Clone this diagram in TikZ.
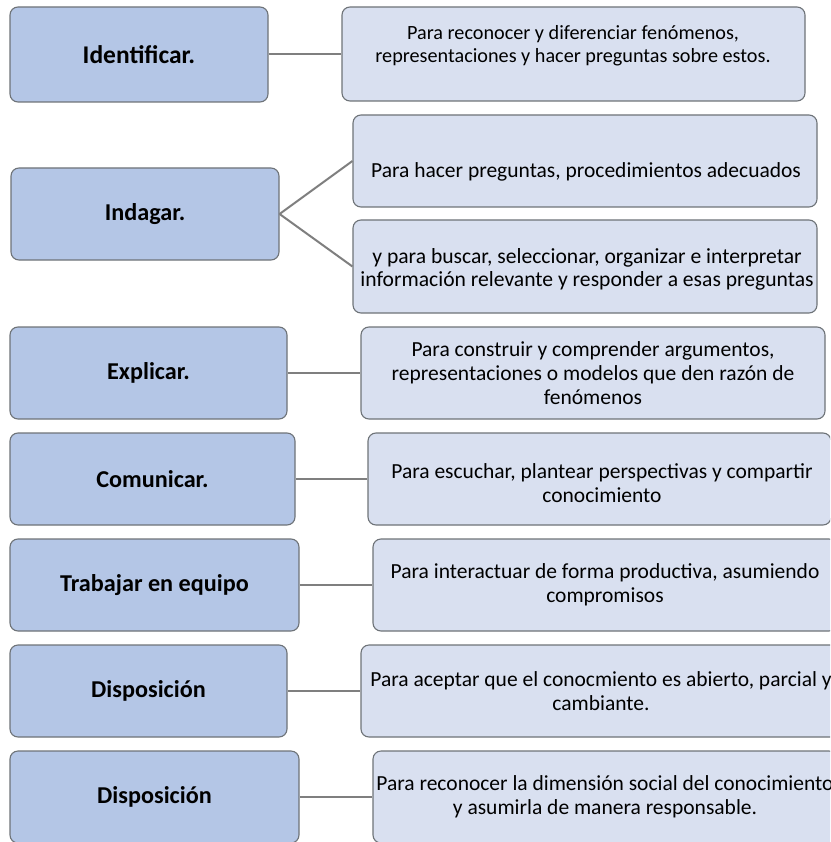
\documentclass[tikz,border=0pt]{standalone}
\usepackage{fontspec}
\setmainfont{Carlito}
\usetikzlibrary{fit}
\definecolor{leftfill}{HTML}{B4C6E6}
\definecolor{rightfill}{HTML}{D9E0F0}
\definecolor{edgegray}{HTML}{6E7378}
\definecolor{linkgray}{HTML}{7F7F7F}
\tikzset{
  box/.style={draw=edgegray, line width=1.1pt, rounded corners=8pt, inner sep=0pt},
  leftbox/.style={box, fill=leftfill},
  rightbox/.style={box, fill=rightfill},
  lefttext/.style={font=\fontsize{24.2}{28}\selectfont\bfseries, inner sep=0pt},
  righttext/.style={font=\fontsize{21.5}{24}\selectfont, align=center, inner sep=0pt},
  link/.style={draw=linkgray, line width=2pt}
}
\newcommand{\boxat}[6]{% style, name, x1, y1, x2, y2
  \path (#3,#4) coordinate (#2-nw) (#5,#6) coordinate (#2-se);
  \node[#1, fit=(#2-nw)(#2-se)] (#2) {};
}
\begin{document}
\begin{tikzpicture}[x=1pt, y=-1pt]
\useasboundingbox (0,0) rectangle (830,842);
\clip (0,0) rectangle (830,842);
% left boxes
\boxat{leftbox}{l1}{10}{7}{268}{102}
\boxat{leftbox}{l2}{11}{168}{279}{260}
\boxat{leftbox}{l3}{10}{327}{287}{419}
\boxat{leftbox}{l4}{10}{433}{295}{525}
\boxat{leftbox}{l5}{10}{539}{299}{631}
\boxat{leftbox}{l6}{10}{645}{287}{737}
\boxat{leftbox}{l7}{10}{751}{299}{843}
% right boxes
\boxat{rightbox}{r1}{342}{7}{805}{101}
\boxat{rightbox}{r2a}{353}{115}{817}{207}
\boxat{rightbox}{r2b}{353}{220}{817}{313}
\boxat{rightbox}{r3}{361}{327}{825}{419}
\boxat{rightbox}{r4}{368}{433}{831}{525}
\boxat{rightbox}{r5}{373}{539}{837}{631}
\boxat{rightbox}{r6}{361}{645}{839}{737}
\boxat{rightbox}{r7}{373}{751}{837}{843}
% left labels
\node[lefttext, font=\fontsize{25.5}{28}\selectfont\bfseries] (t1) at (l1) {Identificar.};
\node[lefttext] (t2) at (l2) {Indagar.};
\node[lefttext] (t3) at (l3) {Explicar.};
\node[lefttext] (t4) at (l4) {Comunicar.};
\node[lefttext] (t5) at (l5) {Trabajar en equipo};
\node[lefttext] (t6) at (l6) {Disposición};
\node[lefttext] (t7) at (l7) {Disposición};
% right texts
\node[righttext, font=\fontsize{20.2}{23.3}\selectfont] (s1) at (573,46) {Para reconocer y diferenciar fenómenos,\\representaciones y hacer preguntas sobre estos.};
\node[righttext] (s2a) at (586,172) {Para hacer preguntas, procedimientos adecuados};
\node[righttext, font=\fontsize{21.6}{23.2}\selectfont] (s2b) at (587,269) {y para buscar, seleccionar, organizar e interpretar\\información relevante y responder a esas preguntas};
\node[righttext] (s3) at (593,373) {Para construir y comprender argumentos,\\representaciones o modelos que den razón de\\fenómenos};
\node[righttext] (s4) at (602,483) {Para escuchar, plantear perspectivas y compartir\\conocimiento};
\node[righttext] (s5) at (605,585) {Para interactuar de forma productiva, asumiendo\\compromisos};
\node[righttext] (s6) at (601,691) {Para aceptar que el conocmiento es abierto, parcial y\\cambiante.};
\node[righttext] (s7) at (605,797) {Para reconocer la dimensión social del conocimiento\\y asumirla de manera responsable.};
% connectors
\draw[link] (l1.east) -- (l1.east -| r1.west);
\draw[link] (l2.east) -- (r2a.west);
\draw[link] (l2.east) -- (r2b.west);
\draw[link] (l3.east) -- (l3.east -| r3.west);
\draw[link] (l4.east) -- (l4.east -| r4.west);
\draw[link] (l5.east) -- (l5.east -| r5.west);
\draw[link] (l6.east) -- (l6.east -| r6.west);
\draw[link] (l7.east) -- (l7.east -| r7.west);
\end{tikzpicture}
\end{document}
